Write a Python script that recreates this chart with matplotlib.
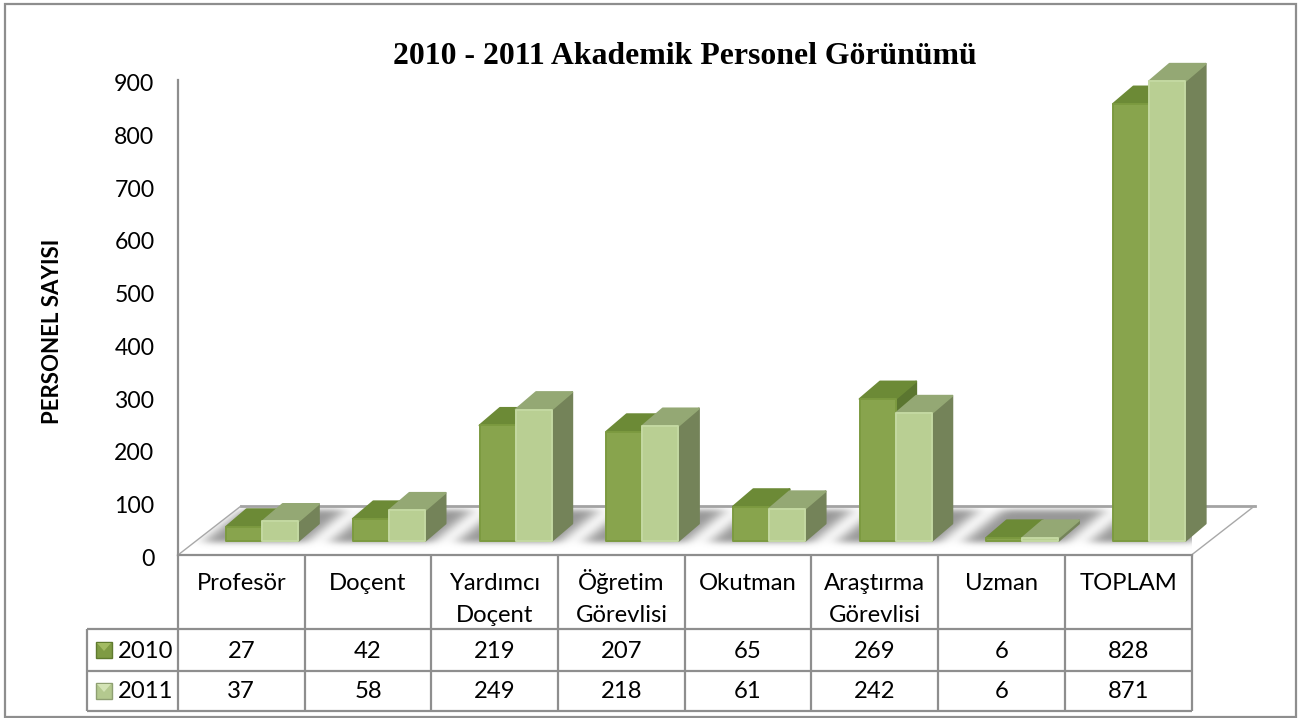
import numpy as np
import matplotlib
matplotlib.use("Agg")
import matplotlib.pyplot as plt
from matplotlib.patches import Polygon, Rectangle
from matplotlib.transforms import ScaledTranslation

categories = ["Profesör", "Doçent", "Yardımcı\nDoçent", "Öğretim\nGörevlisi",
              "Okutman", "Araştırma\nGörevlisi", "Uzman", "TOPLAM"]
series_names = ["2010", "2011"]
values_2010 = [27, 42, 219, 207, 65, 269, 6, 828]
values_2011 = [37, 58, 249, 218, 61, 242, 6, 871]
y_ticks = [0, 100, 200, 300, 400, 500, 600, 700, 800, 900]
title = "2010 - 2011 Akademik Personel Görünümü"
y_label = "PERSONEL SAYISI"

W, H = 1301, 718
GRID = "#8e8e8e"
FONT = "Lato"
plt.rcParams["font.family"] = [FONT, "DejaVu Sans"]
fig = plt.figure(figsize=(W / 100, H / 100), dpi=100, facecolor="white")

# pixel overlay for frame and table
ov = fig.add_axes([0, 0, 1, 1], zorder=3)
ov.set_xlim(0, W); ov.set_ylim(H, 0); ov.axis("off"); ov.patch.set_alpha(0)

# value axes: front plane of the chart
L, R, T, B = 178, 1191.5, 80, 555
ax = fig.add_axes([L / W, 1 - B / H, (R - L) / W, (B - T) / H], zorder=2)
ax.set_facecolor("none")
n = len(categories)
px_x = n / (R - L)
px_y = 900 / (B - T)

floor_dx, floor_dy = 63 * px_x, 49 * px_y
bar_dx, bar_dy = 20.5 * px_x, 17.5 * px_y
base = 14 * px_y
start, bw = 0.38, 0.285

# floor
floor = Polygon([(0, 0), (floor_dx, floor_dy), (n + floor_dx, floor_dy), (n, 0)],
                closed=True, fc="white", ec="none", zorder=1)
ax.add_patch(floor)

# soft shadow on the floor
gx = np.linspace(0, n + floor_dx, int((R - L) + 65))
gy = np.linspace(-6 * px_y, floor_dy + 6 * px_y, 62)
X, Y = np.meshgrid(gx, gy)
slope = 0.95 * floor_dx / floor_dy
S = X - (Y - base) * slope
mask = np.zeros_like(X)
for i in range(n):
    x0, x1 = i + start, i + start + 2 * bw
    mask[(S > x0 - 22 * px_x) & (S < x1 + 9 * px_x)
         & (Y > base - 1 * px_y) & (Y < floor_dy - 3 * px_y)] = 1
k = np.exp(-0.5 * (np.arange(-20, 21) / 7.0) ** 2); k /= k.sum()
mask = np.apply_along_axis(lambda r: np.convolve(r, k, mode="same"), 1, mask)
k2 = np.exp(-0.5 * (np.arange(-10, 11) / 3.0) ** 2); k2 /= k2.sum()
mask = np.apply_along_axis(lambda r: np.convolve(r, k2, mode="same"), 0, mask)
rgba = np.zeros(mask.shape + (4,))
rgba[..., :3] = 0.4
rgba[..., 3] = 0.68 * mask
img = ax.imshow(rgba, extent=(gx[0], gx[-1], gy[0], gy[-1]), origin="lower",
                aspect="auto", zorder=2, interpolation="bilinear")
img.set_clip_path(floor)

# floor outline
ax.plot([floor_dx, n + floor_dx], [floor_dy, floor_dy], color="#a3a3a3", lw=2.0,
        zorder=3, clip_on=False)
ax.plot([0, floor_dx], [0, floor_dy], color="#a8a8a8", lw=1.0, zorder=3, clip_on=False)
ax.plot([n, n + floor_dx], [0, floor_dy], color="#a8a8a8", lw=1.0, zorder=3, clip_on=False)
ax.plot([0, n], [0, 0], color=GRID, lw=1.6, zorder=3, clip_on=False)

# 3D bars
styles = [dict(front="#88A44D", top="#6C8A36", side="#5B7630", rim="#7C9A40"),
          dict(front="#B9CF93", top="#94A874", side="#748359", rim="#C4D9A2")]


def bar3d(x, v, st, z):
    y0, y1 = base, base + v
    x1 = x + bw
    kw = dict(closed=True, joinstyle="round", lw=1.4, clip_on=False, zorder=z)
    ax.add_patch(Polygon([(x1, y0), (x1 + bar_dx, y0 + bar_dy),
                          (x1 + bar_dx, y1 + bar_dy), (x1, y1)],
                         fc=st["side"], ec=st["side"], **kw))
    ax.add_patch(Polygon([(x, y1), (x + bar_dx, y1 + bar_dy),
                          (x1 + bar_dx, y1 + bar_dy), (x1, y1)],
                         fc=st["top"], ec=st["top"], **kw))
    ax.add_patch(Polygon([(x, y0), (x1, y0), (x1, y1), (x, y1)],
                         fc=st["front"], ec=st["rim"], **kw))


for i in range(n):
    bar3d(i + start, values_2010[i], styles[0], 4 + i * 0.1)
    bar3d(i + start + bw, values_2011[i], styles[1], 4.05 + i * 0.1)

ax.set_xlim(0, n)
ax.set_ylim(0, 900)
ax.set_xticks([])
ax.set_yticks(y_ticks)
ax.tick_params(axis="y", length=0, pad=17, labelsize=16.6, labelcolor="black")
shift = ScaledTranslation(0, -2.5 / 100, fig.dpi_scale_trans)
for lbl in ax.get_yticklabels():
    lbl.set_transform(lbl.get_transform() + shift)
for s in ("top", "right", "bottom"):
    ax.spines[s].set_visible(False)
ax.spines["left"].set_color(GRID)
ax.spines["left"].set_linewidth(1.6)

# outer frame
ov.add_patch(Rectangle((5, 4), 1291, 713, fc="none", ec=GRID, lw=1.6))

# table
row_y = [B, 629, 671, 711]
col_x = [L + (R - L) * i / n for i in range(n + 1)]
TL = 87
for x in col_x:
    ov.plot([x, x], [row_y[0], row_y[-1]], color=GRID, lw=1.6, solid_capstyle="butt")
ov.plot([TL, TL], [row_y[1], row_y[-1]], color=GRID, lw=1.6, solid_capstyle="butt")
for y in row_y[1:]:
    ov.plot([TL, R], [y, y], color=GRID, lw=1.6, solid_capstyle="butt")

TS = 17.2
for i, c in enumerate(categories):
    cx = (col_x[i] + col_x[i + 1]) / 2
    for line, yb in zip(c.split("\n"), (590, 622)):
        ov.text(cx, yb, line, ha="center", va="baseline", fontsize=TS, color="black")
    ov.text(cx, 658, str(values_2010[i]), ha="center", va="baseline", fontsize=TS, color="black")
    ov.text(cx, 698, str(values_2011[i]), ha="center", va="baseline", fontsize=TS, color="black")

swatches = [("#5F7A2E", "#A2BB62", "#7F9B44"), ("#8E9F71", "#D3E3B5", "#B4C98F")]
for (name, y, yb, (edge, light, mid)) in zip(series_names, (650, 691), (658, 698), swatches):
    ov.add_patch(Rectangle((96, y - 8), 16, 16, fc=mid, ec=edge, lw=1.0))
    ov.add_patch(Polygon([(97, y - 7), (111, y - 7), (104, y + 1)], closed=True, fc=light, ec="none"))
    ov.text(118, yb, name, ha="left", va="baseline", fontsize=TS, color="black")

# titles
ov.text(685, 57, title, ha="center", va="center", fontsize=22.9,
        fontweight="bold", family="Liberation Serif", color="black")
ov.text(53, 331, y_label, ha="center", va="center", rotation=90, fontsize=16,
        fontweight="bold", color="black")

fig.savefig("out.png", dpi=100, facecolor="white")
